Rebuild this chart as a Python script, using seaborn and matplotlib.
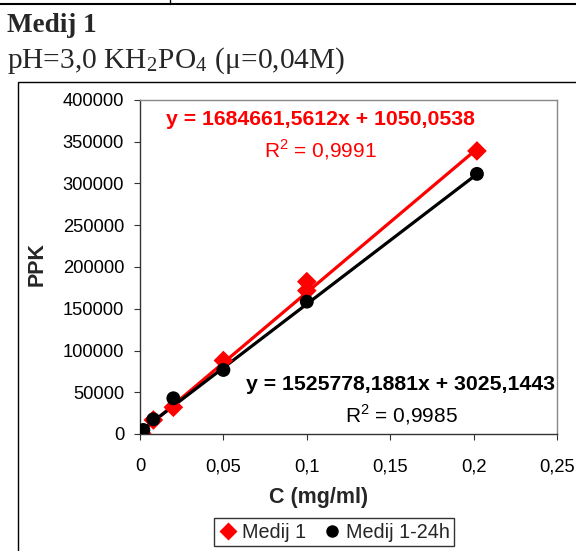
import matplotlib
matplotlib.use("Agg")
import matplotlib.pyplot as plt
import seaborn as sns
import pandas as pd
import numpy as np
from matplotlib.patches import Rectangle
from matplotlib.lines import Line2D

# ---- data ----
series_names = ["Medij 1", "Medij 1-24h"]
x_medij1 = [0.001, 0.008, 0.02, 0.05, 0.1, 0.1, 0.202]
y_medij1 = [800, 16800, 32000, 88000, 182500, 171700, 339000]
x_medij1_24h = [0.002, 0.008, 0.02, 0.05, 0.1, 0.202]
y_medij1_24h = [4800, 17600, 42800, 76700, 158500, 311500]
slopes = [1684661.5612, 1525778.1881]
intercepts = [1050.0538, 3025.1443]
eq_texts = ["y = 1684661,5612x + 1050,0538", "y = 1525778,1881x + 3025,1443"]
r2_texts = ["R$^2$ = 0,9991", "R$^2$ = 0,9985"]
y_ticks = [0, 50000, 100000, 150000, 200000, 250000, 300000, 350000, 400000]
y_ticklabels = ["0", "50000", "100000", "150000", "200000", "250000", "300000", "350000", "400000"]
x_ticks = [0, 0.05, 0.1, 0.15, 0.2, 0.25]
x_ticklabels = ["0", "0,05", "0,1", "0,15", "0,2", "0,25"]

colors = {"Medij 1": "#ff0000", "Medij 1-24h": "#000000"}
markers = {"Medij 1": "D", "Medij 1-24h": "o"}

sns.set_theme(style="white")
plt.rcParams["font.family"] = ["Liberation Sans", "DejaVu Sans"]
plt.rcParams["mathtext.fontset"] = "custom"
plt.rcParams["mathtext.rm"] = "Liberation Sans"

W, H = 576, 551
fig = plt.figure(figsize=(W / 100, H / 100), dpi=100)

# ---- page decorations ----
fig.add_artist(Line2D([0, 1], [1 - 3.5 / H, 1 - 3.5 / H], color="black", lw=1.5, transform=fig.transFigure))
fig.add_artist(Line2D([170 / W, 170 / W], [1 - 3.5 / H, 1.0], color="black", lw=1.0, transform=fig.transFigure))
fig.text(7 / W, 1 - 32 / H, "Medij 1", family="Liberation Serif", weight="bold", fontsize=19.5,
         va="baseline", ha="left")
fig.text(7 / W, 1 - 68 / H, "pH=3,0 KH$_{\\mathregular{2}}$PO$_{\\mathregular{4}}$ (μ=0,04M)",
         family="Liberation Serif", fontsize=21.2, va="baseline", ha="left",
         math_fontfamily="stix")
fig.add_artist(Rectangle((18 / W, -0.05), 1.2, (1 - 82 / H) + 0.05, fill=False, edgecolor="black",
                         lw=1.0, transform=fig.transFigure))

# ---- axes ----
L, R, T, B = 140, 557, 100, 434
ax = fig.add_axes([L / W, 1 - B / H, (R - L) / W, (B - T) / H])

df = pd.concat([
    pd.DataFrame({"C": x_medij1, "PPK": y_medij1, "serie": series_names[0]}),
    pd.DataFrame({"C": x_medij1_24h, "PPK": y_medij1_24h, "serie": series_names[1]}),
])

# trendlines
xs_sets = [x_medij1, x_medij1_24h]
for name, m, b, xs in zip(series_names, slopes, intercepts, xs_sets):
    xl = np.array([min(xs), max(xs)])
    tl = pd.DataFrame({"C": xl, "PPK": m * xl + b})
    sns.lineplot(data=tl, x="C", y="PPK", color=colors[name], lw=2.3, ax=ax, legend=False, zorder=2)

sns.scatterplot(data=df, x="C", y="PPK", hue="serie", style="serie", palette=colors,
                markers=markers, s=100, edgecolor="none", ax=ax, zorder=3)

ax.set_xlim(0, 0.25)
ax.set_ylim(0, 400000)
ax.set_xticks(x_ticks)
ax.set_xticklabels(x_ticklabels)
ax.set_yticks(y_ticks)
ax.set_yticklabels(y_ticklabels)
ax.tick_params(axis="both", which="both", direction="out", length=4.5, width=0.8, color="#333333",
               labelsize=13.2, colors="black", bottom=True, left=True)
ax.tick_params(axis="y", pad=7)
ax.tick_params(axis="x", pad=13)
for s in ["left", "bottom"]:
    ax.spines[s].set_color("#333333")
    ax.spines[s].set_linewidth(1.0)
for s in ["top", "right"]:
    ax.spines[s].set_color("#888888")
    ax.spines[s].set_linewidth(1.0)
ax.grid(False)

ax.set_xlabel("C (mg/ml)", fontsize=15.5, weight="bold")
ax.xaxis.set_label_coords((318.7 - L) / (R - L), (B - 497) / (B - T))
ax.xaxis.label.set_va("center")
ax.set_ylabel("PPK", fontsize=15.5, weight="bold")
ax.yaxis.set_label_coords((37.5 - L) / (R - L), 0.51)
ax.yaxis.label.set_va("center")

# equations
def ax_frac(px, py):
    return ((px - L) / (R - L), (B - py) / (B - T))

ax.text(*ax_frac(320.5, 120), eq_texts[0], color="#ff0000", weight="bold", fontsize=15.3,
        ha="center", va="center", transform=ax.transAxes)
ax.text(*ax_frac(320.8, 150), r2_texts[0], color="#ff0000", fontsize=15,
        ha="center", va="center", transform=ax.transAxes)
ax.text(*ax_frac(400.5, 385), eq_texts[1], color="black", weight="bold", fontsize=15.3,
        ha="center", va="center", transform=ax.transAxes)
ax.text(*ax_frac(401, 415), r2_texts[1], color="black", fontsize=15,
        ha="center", va="center", transform=ax.transAxes)

# legend
handles, labels = ax.get_legend_handles_labels()
leg = ax.legend(handles=handles, labels=labels, loc="center", ncol=2,
                bbox_to_anchor=ax_frac(334, 532), fontsize=14.2, frameon=True, fancybox=False,
                edgecolor="black", handletextpad=0.2, columnspacing=0.8, borderpad=0.25,
                handlelength=1.0, markerscale=0.9)
leg.get_frame().set_linewidth(1.0)

fig.savefig("out.png", dpi=100)
